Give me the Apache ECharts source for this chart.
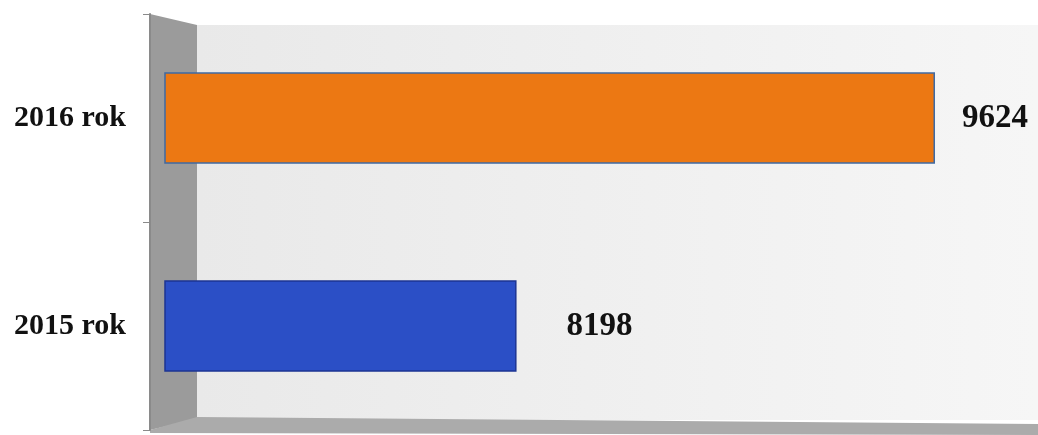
<!DOCTYPE html>
<html>
<head>
<meta charset="utf-8">
<script src="https://cdn.jsdelivr.net/npm/echarts@6/dist/echarts.min.js"></script>
<style>
  html, body { margin: 0; padding: 0; background: #fff; }
  #chart { width: 1038px; height: 435px; }
</style>
</head>
<body>
<div id="chart"></div>
<script>
// data
const categories = ['2015 rok', '2016 rok'];
const values = [8198, 9624];

const barColors = ['#2b4fc6', '#ec7813'];
const barBorders = ['#1d3593', '#3f6aa3'];
const labelGaps = [50, 27];

const chart = echarts.init(document.getElementById('chart'));

const seriesData = values.map((v, i) => ({
  value: v,
  itemStyle: {
    color: barColors[i],
    borderColor: barBorders[i],
    borderWidth: 1.5
  },
  label: { distance: labelGaps[i] }
}));

const option = {
  animation: false,
  backgroundColor: '#ffffff',
  graphic: [
    // back wall
    {
      type: 'rect', z: -10, silent: true,
      shape: { x: 197, y: 25, width: 841, height: 395 },
      style: {
        fill: new echarts.graphic.LinearGradient(0, 0, 1, 0, [
          { offset: 0, color: '#e9e9e9' },
          { offset: 1, color: '#f6f6f6' }
        ])
      }
    },
    // left side wall
    {
      type: 'polygon', z: -9, silent: true,
      shape: { points: [[150, 14], [197, 25], [197, 419], [150, 430]] },
      style: { fill: '#9b9b9b' }
    },
    // floor
    {
      type: 'polygon', z: -9, silent: true,
      shape: { points: [[150, 430], [197, 417], [1038, 424], [1038, 435], [150, 433]] },
      style: { fill: '#ababab' }
    }
  ],
  grid: {
    left: 165,
    right: 22,
    top: 14,
    bottom: 5
  },
  xAxis: {
    type: 'value',
    min: 7000,
    max: 9900,
    show: false
  },
  yAxis: {
    type: 'category',
    data: categories,
    offset: 15,
    axisLine: { show: true, lineStyle: { color: '#8a8a8a', width: 2 } },
    axisTick: { show: true, length: 7, lineStyle: { color: '#8a8a8a' } },
    axisLabel: {
      margin: 24,
      color: '#111',
      fontFamily: 'Liberation Serif',
      fontWeight: 'bold',
      fontSize: 30
    }
  },
  series: [
    {
      type: 'bar',
      data: seriesData,
      barWidth: '44%',
      label: {
        show: true,
        position: 'right',
        color: '#111',
        fontFamily: 'Liberation Serif',
        fontWeight: 'bold',
        fontSize: 33
      }
    }
  ]
};

chart.setOption(option);
window.addEventListener('resize', function () {
  chart.resize();
});
</script>
</body>
</html>
